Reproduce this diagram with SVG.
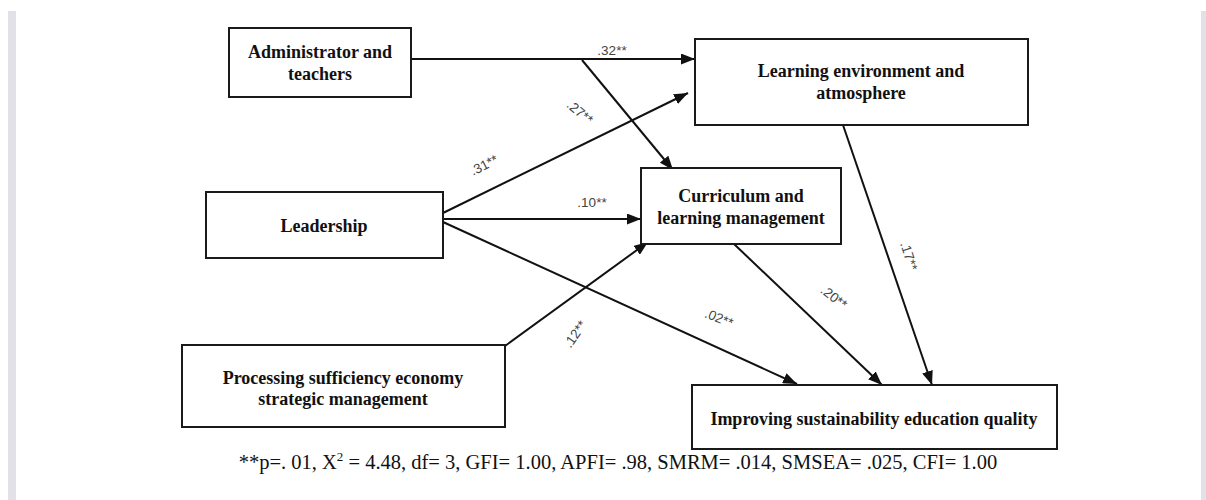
<svg xmlns="http://www.w3.org/2000/svg" width="1206" height="500" viewBox="0 0 1206 500">
<style>
.box{fill:#fff;stroke:#1a1a1a;stroke-width:2}
.nt{font-family:"Liberation Serif","Times New Roman",serif;font-weight:bold;font-size:18px;fill:#111;text-anchor:middle}
.ln{stroke:#111;stroke-width:2;fill:none;marker-end:url(#ah)}
.lb{font-family:"Liberation Sans",Arial,sans-serif;font-size:13.5px;fill:#444;text-anchor:middle}
.fn{font-family:"Liberation Serif","Times New Roman",serif;font-size:20.5px;fill:#111;text-anchor:middle}
</style>
<defs>
<marker id="ah" markerUnits="userSpaceOnUse" markerWidth="14" markerHeight="11" refX="14" refY="5.5" orient="auto">
<path d="M0,0 L14,5.5 L0,11 z" fill="#111"/>
</marker>
</defs>
<rect x="0" y="0" width="1206" height="500" fill="#fff"/>
<rect x="8" y="11" width="8" height="489" fill="#e2e1e7"/>
<rect x="1201" y="11" width="5" height="489" fill="#e2e1e7"/>

<g id="connectors">
<path class="ln" d="M411,59 L695,59"/>
<path class="ln" d="M582,60 L673,170"/>
<path class="ln" d="M443,213 L688,93"/>
<path class="ln" d="M443,219 L641,219"/>
<path class="ln" d="M443,222 L797,384"/>
<path class="ln" d="M505,346 L648,242"/>
<path class="ln" d="M734,244 L882,385"/>
<path class="ln" d="M843,125 L932,385"/>
<text class="lb" x="612" y="55">.32**</text>
<text class="lb" transform="translate(580,112) rotate(40)" dy="0.35em">.27**</text>
<text class="lb" transform="translate(484,165) rotate(-27)" dy="0.35em">.31**</text>
<text class="lb" x="592" y="207">.10**</text>
<text class="lb" transform="translate(575,334) rotate(-55)" dy="0.35em">.12**</text>
<text class="lb" transform="translate(719,318) rotate(22)" dy="0.35em">.02**</text>
<text class="lb" transform="translate(834,297) rotate(38)" dy="0.35em">.20**</text>
<text class="lb" transform="translate(909,256) rotate(72)" dy="0.35em">.17**</text>
</g>

<g id="admin">
<rect class="box" x="229" y="28" width="182" height="69"/>
<text class="nt" x="320" y="58">Administrator and</text>
<text class="nt" x="320" y="80">teachers</text>
</g>
<g id="learning-env">
<rect class="box" x="695" y="39" width="333" height="86"/>
<text class="nt" x="861" y="77">Learning environment and</text>
<text class="nt" x="861" y="99">atmosphere</text>
</g>
<g id="curriculum">
<rect class="box" x="641" y="168" width="200" height="76"/>
<text class="nt" x="741" y="202">Curriculum and</text>
<text class="nt" x="741" y="224">learning management</text>
</g>
<g id="leadership">
<rect class="box" x="206" y="192" width="237" height="66"/>
<text class="nt" x="324" y="232">Leadership</text>
</g>
<g id="processing">
<rect class="box" x="182" y="345" width="323" height="82"/>
<text class="nt" x="343" y="384">Processing sufficiency economy</text>
<text class="nt" x="343" y="405">strategic management</text>
</g>
<g id="improving">
<rect class="box" x="692" y="385" width="365" height="64"/>
<text class="nt" x="874" y="425">Improving sustainability education quality</text>
</g>

<text class="fn" x="618" y="469">**p=. 01, X<tspan dy="-8" font-size="13">2</tspan><tspan dy="8"> = 4.48, df= 3, GFI= 1.00, APFI= .98, SMRM= .014, SMSEA= .025, CFI= 1.00</tspan></text>
</svg>
